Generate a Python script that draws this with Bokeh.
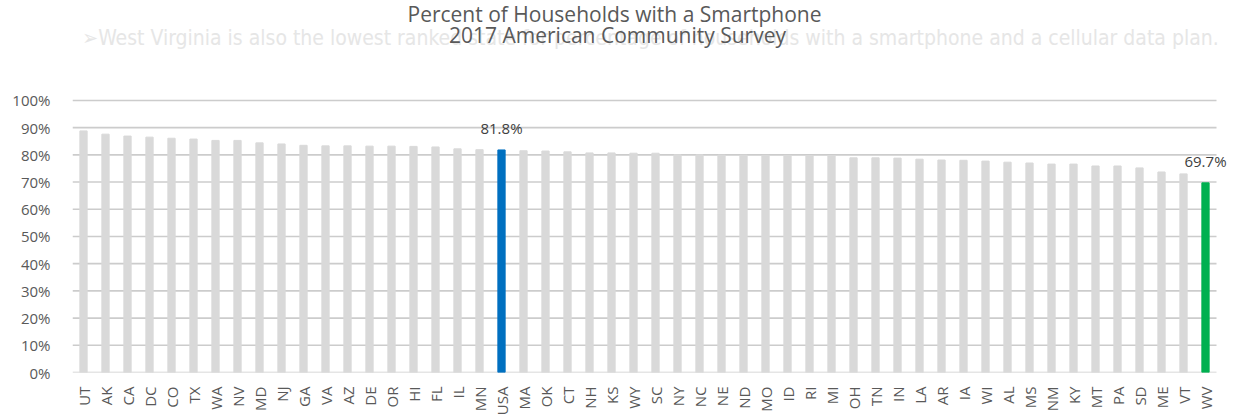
import math
from bokeh.plotting import figure
from bokeh.models import ColumnDataSource, Label, NumeralTickFormatter, FixedTicker, Range1d
from bokeh.embed import file_html
from bokeh.resources import INLINE

states = ["UT", "AK", "CA", "DC", "CO", "TX", "WA", "NV", "MD", "NJ", "GA", "VA", "AZ",
          "DE", "OR", "HI", "FL", "IL", "MN", "USA", "MA", "OK", "CT", "NH", "KS", "WY",
          "SC", "NY", "NC", "NE", "ND", "MO", "ID", "RI", "MI", "OH", "TN", "IN", "LA",
          "AR", "IA", "WI", "AL", "MS", "NM", "KY", "MT", "PA", "SD", "ME", "VT", "WV"]
values = [88.8, 87.6, 86.9, 86.5, 86.1, 85.8, 85.3, 85.3, 84.4, 84.0, 83.5, 83.3, 83.3,
          83.2, 83.2, 83.1, 82.9, 82.2, 81.9, 81.8, 81.5, 81.4, 81.1, 80.7, 80.7, 80.6,
          80.6, 80.0, 80.0, 79.9, 79.9, 79.8, 79.8, 79.7, 79.6, 78.9, 78.9, 78.8, 78.4,
          78.1, 78.0, 77.7, 77.3, 77.0, 76.6, 76.6, 75.9, 75.9, 75.2, 73.7, 73.0, 69.7]
highlight = {"USA": "#0070C0", "WV": "#00B050"}
y_ticks = [0, 10, 20, 30, 40, 50, 60, 70, 80, 90, 100]

title1 = "Percent of Households with a Smartphone"
title2 = "2017 American Community Survey"
overlay = ("\u27a2West Virginia is also the lowest ranked state for percentage of households "
           "with a smartphone and a cellular data plan.")

W, H = 1235, 418
LEFT, BOTTOM = 72, 42
band = 22.0
frame_h = H - BOTTOM
frame_w = W - LEFT
pct_px = 275.0

n = len(states)
xs = [i + 0.5 for i in range(n)]
colors = [highlight.get(s, "#D9D9D9") for s in states]
src = ColumnDataSource(dict(x=xs, value=[v / 100 for v in values], color=colors))

p = figure(width=W, height=H, output_backend="svg", toolbar_location=None,
           x_range=Range1d(0, frame_w / band), y_range=Range1d(0, frame_h / pct_px),
           min_border_left=LEFT, min_border_right=0, min_border_top=0,
           min_border_bottom=BOTTOM)
p.outline_line_color = None
p.xgrid.grid_line_color = None
p.ygrid.grid_line_color = None

# horizontal gridlines spanning the categories only
gy = [t / 100 for t in y_ticks]
p.segment(x0=[0] * len(gy), x1=[n] * len(gy), y0=gy, y1=gy,
          line_color="#CCCCCC", line_width=1.6, level="underlay")

p.vbar(x="x", top="value", width=0.33, color="color", source=src)

p.yaxis.ticker = FixedTicker(ticks=gy)
p.yaxis.bounds = (0, 1)
p.yaxis.formatter = NumeralTickFormatter(format="0%")
p.yaxis.axis_line_color = None
p.yaxis.major_tick_line_color = None
p.yaxis.minor_tick_line_color = None
p.yaxis.major_label_text_font = "Open Sans"
p.yaxis.major_label_text_font_size = "15px"
p.yaxis.major_label_text_color = "#595959"
p.yaxis.major_label_standoff = 16

p.xaxis.ticker = FixedTicker(ticks=xs)
p.xaxis.major_label_overrides = {x: s for x, s in zip(xs, states)}
p.xaxis.bounds = (0, n)
p.xaxis.axis_line_color = None
p.xaxis.major_tick_line_color = None
p.xaxis.minor_tick_line_color = None
p.xaxis.major_label_orientation = math.pi / 2
p.xaxis.major_label_text_font = "Open Sans"
p.xaxis.major_label_text_font_size = "15px"
p.xaxis.major_label_text_color = "#595959"
p.xaxis.major_label_standoff = 8

# data labels
for s in highlight:
    i = states.index(s)
    p.add_layout(Label(x=xs[i], y=values[i] / 100, text=f"{values[i]:.1f}%",
                       text_align="center", text_baseline="bottom", y_offset=12,
                       text_font="Open Sans", text_font_size="15px", text_color="#404040"))

# header texts (screen units measured from frame bottom-left)
p.add_layout(Label(x=578, y=frame_h - 41, x_units="screen", y_units="screen",
                   text=overlay, text_align="center", text_baseline="middle",
                   text_font="DejaVu Sans Condensed", text_font_size="21px",
                   text_color="#E6E6E6"))
p.add_layout(Label(x=542, y=frame_h - 17, x_units="screen", y_units="screen",
                   text=title1, text_align="center", text_baseline="middle",
                   text_font="Open Sans", text_font_size="21px", text_color="#595959"))
p.add_layout(Label(x=545, y=frame_h - 38, x_units="screen", y_units="screen",
                   text=title2, text_align="center", text_baseline="middle",
                   text_font="Open Sans", text_font_size="21px", text_color="#595959"))

open("out.html", "w").write(file_html(p, INLINE))
